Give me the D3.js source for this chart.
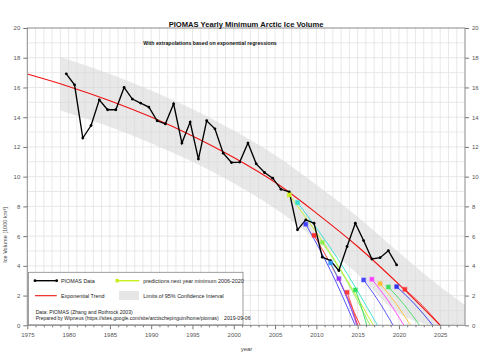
<!DOCTYPE html>
<html><head><meta charset="utf-8">
<script src="https://cdn.jsdelivr.net/npm/d3@7"></script>
<style>body{margin:0;background:#fff}svg{display:block}text{font-family:"Liberation Sans",Arial,Helvetica,sans-serif}</style>
</head><body><svg id="c" width="480" height="360"></svg>
<script>
// ---------- data ----------
const years = [1979,1980,1981,1982,1983,1984,1985,1986,1987,1988,1989,1990,1991,1992,1993,1994,1995,1996,1997,1998,1999,2000,2001,2002,2003,2004,2005,2006,2007,2008,2009,2010,2011,2012,2013,2014,2015,2016,2017,2018,2019];
const volume = [16.92,16.18,12.6,13.44,15.17,14.5,14.5,16.0,15.22,14.95,14.68,13.76,13.55,14.9,12.26,13.67,11.18,13.76,13.22,11.58,10.95,10.98,12.26,10.86,10.28,9.9,9.15,8.98,6.42,7.09,6.87,4.58,4.35,3.68,5.3,6.87,5.7,4.46,4.55,5.02,4.06];

const trendYears  = [1975,1980,1985,1990,1995,2000,2005,2010,2015,2020,2025];
const trendValues = [16.9,16.07,15.11,14.01,12.74,11.29,9.62,7.55,5.3,2.75,0];

const bandYears = [1979,1985,1990,1995,2000,2005,2010,2015,2020,2025,2028];
const bandUpper = [18.05,16.9,15.8,14.55,13.1,11.45,9.45,7.3,4.9,2.6,1.37];
const bandLower = [14.45,13.35,12.25,11.0,9.55,7.85,5.75,3.45,0.8,0,0];

const predYears    = [2006,2007,2008,2009,2010,2011,2012,2013,2014,2015,2016,2017,2018,2019,2020];
const predStart    = [8.77,8.26,6.8,6.05,5.57,4.2,3.14,2.22,2.38,3.05,3.1,2.8,2.58,2.6,2.42];
const predMid      = [4.75,4.5,3.7,3.3,3.05,2.3,1.72,1.2,1.3,1.65,1.68,1.52,1.4,1.42,1.32];
const predZeroYear = [2016.9,2017.4,2014.7,2015.3,2016.5,2015.0,2014.9,2015.0,2016.1,2019.3,2020.6,2021.4,2022.5,2024.1,2025.0];
const predColors   = ["#c8f01e","#30e0d0","#4040ff","#ff3030","#90ee50","#3399ff","#9933ff","#ff3b3b","#30e060","#4848ff","#ff40ff","#ffc030","#40dd60","#3030ee","#ff3030"];

const xTickLabels = [1975,1980,1985,1990,1995,2000,2005,2010,2015,2020,2025];
const yTickLabels = [0,2,4,6,8,10,12,14,16,18,20];
const seasonOffset = 0.72; // September minimum within the year

// ---------- layout ----------
const svg = d3.select("#c");
const L = 27.3, R = 465, T = 28, B = 325.3;
const x = d3.scaleLinear().domain([1975, 2028]).range([L, R]);
const y = d3.scaleLinear().domain([0, 20]).range([B, T]);

// grid
const g = svg.append("g");
g.selectAll(".vg").data(d3.range(1976, 2028)).join("line")
  .attr("x1", d => x(d)).attr("x2", d => x(d)).attr("y1", T).attr("y2", B)
  .attr("stroke", "#e2e2e2").attr("stroke-width", 0.8);
g.selectAll(".hg").data(d3.range(1, 20)).join("line")
  .attr("x1", L).attr("x2", R).attr("y1", d => y(d)).attr("y2", d => y(d))
  .attr("stroke", "#e2e2e2").attr("stroke-width", 0.8);

// confidence band
const area = d3.area().x((d, i) => x(bandYears[i])).y0((d, i) => y(bandLower[i])).y1((d, i) => y(bandUpper[i])).curve(d3.curveMonotoneX);
svg.append("path").datum(bandYears).attr("d", area).attr("fill", "#d9d9d9").attr("fill-opacity", 0.6);

// prediction curves
const predLine = d3.line().x(d => x(d[0])).y(d => y(d[1])).curve(d3.curveMonotoneX);
predYears.forEach((yr, i) => {
  const t0 = yr + seasonOffset, t1 = predZeroYear[i];
  const pts = [[t0, predStart[i]], [(t0 + t1) / 2, predMid[i]], [t1, 0]];
  svg.append("path").datum(pts).attr("d", predLine).attr("fill", "none")
    .attr("stroke", predColors[i]).attr("stroke-width", 0.9);
});

// trend
const tline = d3.line().x((d, i) => x(trendYears[i])).y((d, i) => y(trendValues[i])).curve(d3.curveMonotoneX);
svg.append("path").datum(trendYears).attr("d", tline).attr("fill", "none").attr("stroke", "#ee1111").attr("stroke-width", 1.1);

// data
const dline = d3.line().x((d, i) => x(years[i] + seasonOffset)).y((d, i) => y(volume[i]));
svg.append("path").datum(years).attr("d", dline).attr("fill", "none").attr("stroke", "#000").attr("stroke-width", 1.35);
svg.selectAll(".dp").data(years).join("circle")
  .attr("cx", (d, i) => x(d + seasonOffset)).attr("cy", (d, i) => y(volume[i])).attr("r", 1.4).attr("fill", "#000");

// prediction markers
svg.selectAll(".pm").data(predYears).join("rect")
  .attr("x", d => x(d + seasonOffset) - 2).attr("y", (d, i) => y(predStart[i]) - 2)
  .attr("width", 4).attr("height", 4)
  .attr("fill", (d, i) => predColors[i]).attr("stroke", (d, i) => predColors[i]).attr("stroke-opacity", 0.35).attr("stroke-width", 1.2);

// frame
svg.append("rect").attr("x", L).attr("y", T).attr("width", R - L).attr("height", B - T)
  .attr("fill", "none").attr("stroke", "#8a8a8a").attr("stroke-width", 1);

// axes
const axisColor = "#777";
const xAxis = svg.append("g").attr("transform", `translate(0,${B})`)
  .call(d3.axisBottom(x).tickValues(xTickLabels).tickFormat(d3.format("d")).tickSize(4).tickPadding(3));
const xMinor = svg.append("g").attr("transform", `translate(0,${B})`)
  .call(d3.axisBottom(x).tickValues(d3.range(1976, 2028).filter(d => d % 5)).tickFormat("").tickSize(2));
const yLeft = svg.append("g").attr("transform", `translate(${L},0)`)
  .call(d3.axisLeft(y).tickValues(yTickLabels).tickSize(4).tickPadding(3));
const yRight = svg.append("g").attr("transform", `translate(${R},0)`)
  .call(d3.axisRight(y).tickValues(yTickLabels).tickSize(4).tickPadding(3));
[xAxis, xMinor, yLeft, yRight].forEach(a => {
  a.select(".domain").remove();
  a.selectAll("line").attr("stroke", axisColor);
  a.selectAll("text").attr("fill", "#555").style("font-size", "6px").style("font-family", "Liberation Sans, Arial, sans-serif");
});

// titles
svg.append("text").attr("x", 246).attr("y", 26.5).attr("text-anchor", "middle")
  .style("font-size", "7.6px").style("font-weight", "bold").attr("fill", "#111")
  .text("PIOMAS Yearly Minimum Arctic Ice Volume");
svg.append("text").attr("x", 210).attr("y", 44.5).attr("text-anchor", "middle")
  .style("font-size", "5.2px").style("font-weight", "bold").attr("fill", "#111")
  .text("With extrapolations based on exponential regressions");
svg.append("text").attr("x", 246.5).attr("y", 351).attr("text-anchor", "middle")
  .style("font-size", "6px").attr("fill", "#444").text("year");
svg.append("text").attr("transform", "translate(7,235) rotate(-90)").attr("text-anchor", "middle")
  .style("font-size", "5.6px").attr("fill", "#444").text("Ice Volume [1000 km³]");

// legend
const lg = svg.append("g");
lg.append("rect").attr("x", 28.5).attr("y", 272.3).attr("width", 214.5).attr("height", 52.5)
  .attr("fill", "#fff").attr("stroke", "#888").attr("stroke-width", 0.8);
lg.append("line").attr("x1", 35).attr("x2", 56.7).attr("y1", 280.7).attr("y2", 280.7).attr("stroke", "#000").attr("stroke-width", 1.4);
[35, 56.7].forEach(cx => lg.append("circle").attr("cx", cx).attr("cy", 280.7).attr("r", 1.4).attr("fill", "#000"));
lg.append("text").attr("x", 61).attr("y", 282.6).style("font-size", "5.4px").attr("fill", "#222").text("PIOMAS Data");
lg.append("line").attr("x1", 117).attr("x2", 139.3).attr("y1", 280.7).attr("y2", 280.7).attr("stroke", predColors[0]).attr("stroke-width", 1.4);
lg.append("rect").attr("x", 115.5).attr("y", 279).attr("width", 3.4).attr("height", 3.4).attr("fill", predColors[0]);
lg.append("text").attr("x", 143.3).attr("y", 282.6).style("font-size", "5.4px").attr("fill", "#222").text("predictions next year minimum 2006-2020");
lg.append("line").attr("x1", 35).attr("x2", 56.7).attr("y1", 295.7).attr("y2", 295.7).attr("stroke", "#ee1111").attr("stroke-width", 1.1);
lg.append("text").attr("x", 61).attr("y", 297.6).style("font-size", "5.4px").attr("fill", "#222").text("Exponential Trend");
lg.append("rect").attr("x", 119).attr("y", 291).attr("width", 20).attr("height", 9).attr("fill", "#e6e6e6");
lg.append("text").attr("x", 143.3).attr("y", 297.6).style("font-size", "5.4px").attr("fill", "#222").text("Limits of 95% Confidence Interval");
lg.append("text").attr("x", 35.7).attr("y", 313.5).style("font-size", "5.2px").attr("fill", "#222")
  .attr("textLength", 97).attr("lengthAdjust", "spacingAndGlyphs").text("Data: PIOMAS (Zhang and Rothrock 2003)");
lg.append("text").attr("x", 35.7).attr("y", 319.5).style("font-size", "5.2px").attr("fill", "#222")
  .attr("textLength", 183).attr("lengthAdjust", "spacingAndGlyphs").text("Prepared by Wipneus (https://sites.google.com/site/arctischepinguin/home/piomas)");
lg.append("text").attr("x", 224).attr("y", 319.5).style("font-size", "5.2px").attr("fill", "#222").text("2019-09-06");
</script></body></html>
